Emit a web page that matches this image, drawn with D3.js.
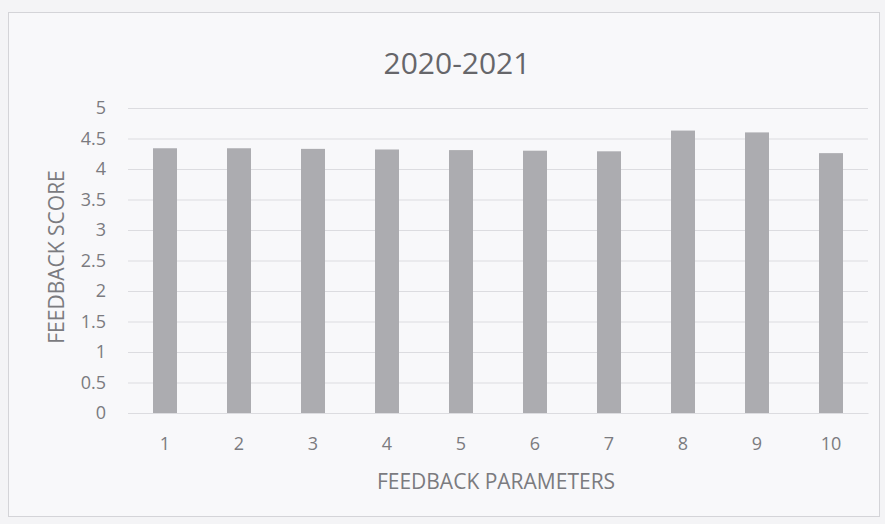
<!DOCTYPE html>
<html>
<head>
<meta charset="utf-8">
<script src="https://cdn.jsdelivr.net/npm/d3@7"></script>
<style>
  body { margin: 0; background: #f4f4f6; }
  text { font-family: "Open Sans", sans-serif; }
</style>
</head>
<body>
<div class="chart"></div>
<script>
// canvas size
var svgWidth = 885;
var svgHeight = 524;

// data
var chartTitle = "2020-2021";
var parameters = ["1", "2", "3", "4", "5", "6", "7", "8", "9", "10"];
var scores = [4.34, 4.34, 4.33, 4.32, 4.31, 4.3, 4.29, 4.63, 4.6, 4.26];
var yTicks = [0, 0.5, 1, 1.5, 2, 2.5, 3, 3.5, 4, 4.5, 5];
var xTitle = "FEEDBACK PARAMETERS";
var yTitle = "FEEDBACK SCORE";

var margin = { top: 108, right: 17, bottom: 111, left: 128 };
var width = svgWidth - margin.left - margin.right;
var height = svgHeight - margin.top - margin.bottom;

var svg = d3
  .select(".chart")
  .append("svg")
  .attr("width", svgWidth)
  .attr("height", svgHeight);

// chart area background + frame
svg
  .append("rect")
  .attr("x", 8.5)
  .attr("y", 12.5)
  .attr("width", 871)
  .attr("height", 504)
  .attr("fill", "#f8f8fa")
  .attr("stroke", "#d4d4d8");

var chartGroup = svg
  .append("g")
  .attr("transform", `translate(${margin.left}, ${margin.top})`);

var xScale = d3
  .scaleBand()
  .domain(parameters)
  .range([0, width])
  .paddingInner(0.676)
  .paddingOuter(0.338);

var yScale = d3.scaleLinear().domain([0, 5]).range([height, 0]);

// gridlines
chartGroup
  .append("g")
  .call(d3.axisLeft(yScale).tickValues(yTicks).tickSize(-width).tickFormat(""))
  .call((g) => g.select(".domain").remove())
  .selectAll("line")
  .attr("stroke", "#dcdce0");

// bars
chartGroup
  .selectAll(".bar")
  .data(scores)
  .enter()
  .append("rect")
  .attr("class", "bar")
  .attr("x", (d, i) => xScale(parameters[i]))
  .attr("y", (d) => yScale(d))
  .attr("width", xScale.bandwidth())
  .attr("height", (d) => height - yScale(d))
  .attr("fill", "#acacb0");

// y axis labels - no trailing zeros (5, 4.5, 0)
var yAxis = chartGroup
  .append("g")
  .call(
    d3
      .axisLeft(yScale)
      .tickValues(yTicks)
      .tickFormat(d3.format("~g"))
      .tickSize(0)
      .tickPadding(22)
  );
yAxis.select(".domain").remove();
yAxis
  .selectAll("text")
  .attr("fill", "#7b7b7f")
  .style("font-size", "18px");

// x axis labels
var xAxis = chartGroup
  .append("g")
  .attr("transform", `translate(0, ${height})`)
  .call(d3.axisBottom(xScale).tickSize(0).tickPadding(24));
xAxis.select(".domain").attr("stroke", "#dcdce0");
xAxis
  .selectAll("text")
  .attr("fill", "#7b7b7f")
  .style("font-size", "18px");

// title
svg
  .append("text")
  .attr("x", 457)
  .attr("y", 74)
  .attr("text-anchor", "middle")
  .attr("fill", "#66666a")
  .style("font-size", "30px")
  .text(chartTitle);

// axis titles
svg
  .append("text")
  .attr("x", 496)
  .attr("y", 489)
  .attr("text-anchor", "middle")
  .attr("fill", "#7b7b7f")
  .style("font-size", "21px")
  .text(xTitle);

svg
  .append("text")
  .attr("transform", "translate(64, 257) rotate(-90)")
  .attr("text-anchor", "middle")
  .attr("fill", "#7b7b7f")
  .style("font-size", "21px")
  .text(yTitle);
</script>
</body>
</html>
